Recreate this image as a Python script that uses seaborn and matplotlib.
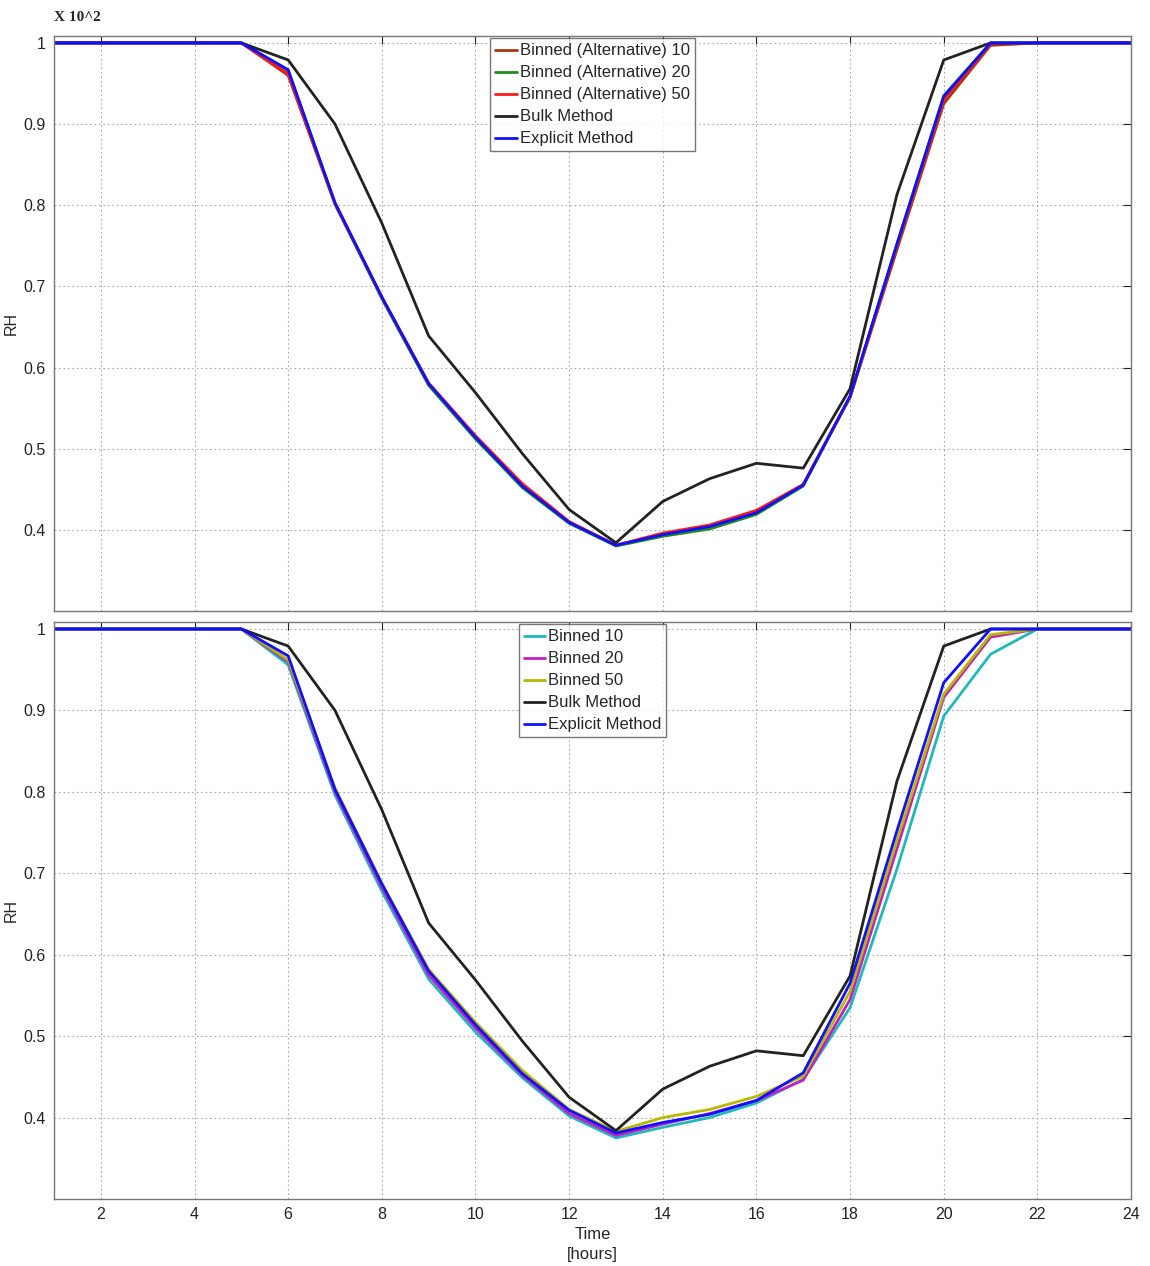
import numpy as np
import pandas as pd
import matplotlib
matplotlib.use("Agg")
import matplotlib.pyplot as plt
import seaborn as sns

# hours of the day
hours = list(range(1, 25))

# values (RH, x 10^2)
bulk = [1, 1, 1, 1, 1, 0.979, 0.900, 0.778, 0.639, 0.569, 0.494, 0.425, 0.384,
        0.435, 0.463, 0.482, 0.476, 0.574, 0.813, 0.979, 1, 1, 1, 1]
explicit = [1, 1, 1, 1, 1, 0.967, 0.803, 0.687, 0.580, 0.514, 0.454, 0.409, 0.381,
            0.394, 0.404, 0.421, 0.455, 0.565, 0.752, 0.934, 1, 1, 1, 1]

# top panel: alternative binned
alt_10 = [1, 1, 1, 1, 1, 0.960, 0.801, 0.686, 0.580, 0.515, 0.456, 0.410, 0.381,
          0.394, 0.404, 0.421, 0.456, 0.563, 0.745, 0.925, 0.997, 1, 1, 1]
alt_20 = [1, 1, 1, 1, 1, 0.966, 0.802, 0.685, 0.578, 0.512, 0.452, 0.408, 0.380,
          0.392, 0.401, 0.419, 0.454, 0.564, 0.752, 0.935, 1, 1, 1, 1]
alt_50 = [1, 1, 1, 1, 1, 0.962, 0.803, 0.687, 0.581, 0.516, 0.457, 0.410, 0.381,
          0.396, 0.406, 0.424, 0.456, 0.564, 0.750, 0.930, 0.999, 1, 1, 1]

# bottom panel: binned
bin_10 = [1, 1, 1, 1, 1, 0.956, 0.796, 0.678, 0.570, 0.505, 0.449, 0.402, 0.375,
          0.388, 0.400, 0.418, 0.447, 0.535, 0.705, 0.893, 0.969, 1, 1, 1]
bin_20 = [1, 1, 1, 1, 1, 0.960, 0.800, 0.683, 0.575, 0.510, 0.452, 0.405, 0.378,
          0.392, 0.405, 0.421, 0.446, 0.545, 0.730, 0.916, 0.990, 1, 1, 1]
bin_50 = [1, 1, 1, 1, 1, 0.962, 0.805, 0.688, 0.582, 0.517, 0.458, 0.410, 0.383,
          0.400, 0.410, 0.426, 0.451, 0.555, 0.740, 0.920, 0.993, 1, 1, 1]

top_series = {
    "Binned (Alternative) 10": alt_10,
    "Binned (Alternative) 20": alt_20,
    "Binned (Alternative) 50": alt_50,
    "Bulk Method": bulk,
    "Explicit Method": explicit,
}
top_colors = ["#a33a10", "#1e8c1e", "#ff1a1a", "#222222", "#1010ff"]

bottom_series = {
    "Binned 10": bin_10,
    "Binned 20": bin_20,
    "Binned 50": bin_50,
    "Bulk Method": bulk,
    "Explicit Method": explicit,
}
bottom_colors = ["#20b8b8", "#c020c0", "#b8b800", "#222222", "#1010ff"]

y_ticks = [0.4, 0.5, 0.6, 0.7, 0.8, 0.9, 1.0]
y_tick_labels = ["0.4", "0.5", "0.6", "0.7", "0.8", "0.9", "1"]
x_ticks = list(range(2, 25, 2))


def to_long(series):
    frames = [pd.DataFrame({"hour": hours, "RH": v, "series": k}) for k, v in series.items()]
    return pd.concat(frames, ignore_index=True)


sns.set_style("white")
plt.rcParams["font.family"] = ["Liberation Sans", "DejaVu Sans"]

fig = plt.figure(figsize=(11.5, 12.66), dpi=100)
ax1 = fig.add_axes([0.047, 0.5174, 0.9365, 0.4542])
ax2 = fig.add_axes([0.047, 0.0529, 0.9365, 0.4558])

for ax, series, colors in [(ax1, top_series, top_colors), (ax2, bottom_series, bottom_colors)]:
    df = to_long(series)
    sns.lineplot(data=df, x="hour", y="RH", hue="series", hue_order=list(series.keys()),
                 palette=colors, linewidth=2.0, ax=ax)
    ax.set_xlim(1, 24)
    ax.set_ylim(0.3, 1.0086)
    ax.set_xticks(x_ticks)
    ax.set_yticks(y_ticks)
    ax.set_yticklabels(y_tick_labels)
    ax.grid(True, linestyle=(0, (1.5, 2.5)), color="#a8a8a8", linewidth=0.8)
    ax.tick_params(direction="in", top=True, right=True, length=6, width=0.8,
                   labelsize=11.5, colors="#222222", pad=6)
    for sp in ax.spines.values():
        sp.set_color("#777777")
        sp.set_linewidth(1.0)
    ax.set_ylabel("RH", fontsize=11.5)
    ax.yaxis.set_label_coords(-0.033, 0.5)
    leg = ax.legend(loc="upper center", fontsize=12, frameon=True, fancybox=False,
                    edgecolor="#555555", borderaxespad=0.15, handlelength=1.3,
                    handletextpad=0.15, labelspacing=0.42, borderpad=0.3)
    leg.get_frame().set_linewidth(1.0)
    for line in leg.get_lines():
        line.set_linewidth(2.0)

ax1.set_xlabel("")
ax1.tick_params(labelbottom=False)
ax2.set_xlabel("Time\n[hours]", fontsize=12, labelpad=3, linespacing=1.45)

fig.text(0.047, 0.986, "X 10^2", fontsize=11, fontweight="bold",
         family=["Liberation Serif", "DejaVu Serif"], ha="left", va="center")

fig.savefig("out.png", dpi=100)
